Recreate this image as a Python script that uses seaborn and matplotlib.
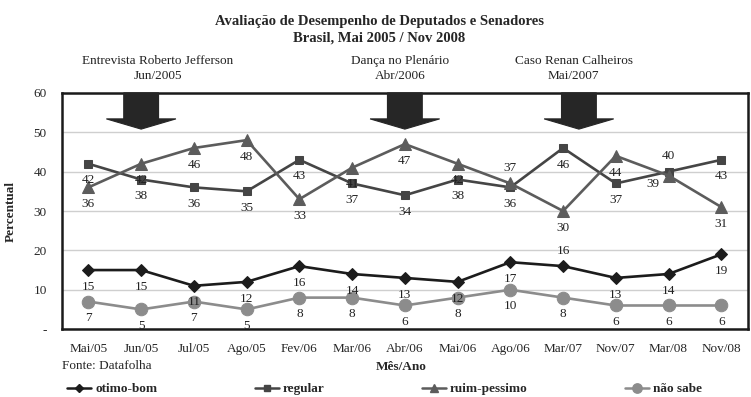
import matplotlib
matplotlib.use("Agg")
import matplotlib.pyplot as plt
from matplotlib.lines import Line2D
from matplotlib.patches import Polygon
import seaborn as sns
import pandas as pd
import numpy as np

# Survey rounds and results (%)
periods = ["Mai/05", "Jun/05", "Jul/05", "Ago/05", "Fev/06", "Mar/06", "Abr/06",
           "Mai/06", "Ago/06", "Mar/07", "Nov/07", "Mar/08", "Nov/08"]
otimo_bom = [15, 15, 11, 12, 16, 14, 13, 12, 17, 16, 13, 14, 19]
regular = [42, 38, 36, 35, 43, 37, 34, 38, 36, 46, 37, 40, 43]
ruim_pessimo = [36, 42, 46, 48, 33, 41, 47, 42, 37, 30, 44, 39, 31]
nao_sabe = [7, 5, 7, 5, 8, 8, 6, 8, 10, 8, 6, 6, 6]
series_names = ["otimo-bom", "regular", "ruim-pessimo", "não sabe"]

# Events marked with arrows: label, position on the period axis
events = ["Entrevista Roberto Jefferson\nJun/2005", "Dança no Plenário\nAbr/2006",
          "Caso Renan Calheiros\nMai/2007"]
event_pos = [1, 6, 9.3]

y_ticks = [0, 10, 20, 30, 40, 50, 60]
y_tick_labels = ["-", "10", "20", "30", "40", "50", "60"]

sns.set_theme(style="white")
plt.rcParams["font.family"] = ["Liberation Serif", "DejaVu Serif"]

values = [otimo_bom, regular, ruim_pessimo, nao_sabe]
df = pd.DataFrame({
    "idx": np.tile(np.arange(len(periods)), len(series_names)),
    "valor": np.concatenate(values),
    "serie": np.repeat(series_names, len(periods)),
})

colors = {"otimo-bom": "#1c1c1c", "regular": "#454545",
          "ruim-pessimo": "#5c5c5c", "não sabe": "#8c8c8c"}
markers = {"otimo-bom": "D", "regular": "s", "ruim-pessimo": "^", "não sabe": "o"}
msizes = {"otimo-bom": 6, "regular": 5.5, "ruim-pessimo": 8, "não sabe": 9}

fig = plt.figure(figsize=(7.51, 3.97), dpi=100)
ax = fig.add_axes([0.0826, 0.171, 0.913, 0.595])

for name in series_names:
    sub = df[df["serie"] == name]
    sns.lineplot(data=sub, x="idx", y="valor", ax=ax, color=colors[name],
                 marker=markers[name], markersize=msizes[name], linewidth=1.9,
                 markeredgecolor=colors[name], legend=False, sort=False)

# Value labels (mostly below the point)
special = {("otimo-bom", 9): (0, 11), ("regular", 11): (0, 11),
           ("ruim-pessimo", 8): (0, 11), ("ruim-pessimo", 11): (-11, -6)}
for name, vals in zip(series_names, values):
    for i, v in enumerate(vals):
        dx, dy = special.get((name, i), (0, -12))
        ax.annotate(str(v), (i, v), xytext=(dx, dy), textcoords="offset points",
                    ha="center", va="center", fontsize=9.5, color="#222222")

ax.set_xlim(-0.5, len(periods) - 0.5)
ax.set_ylim(0, 60)
ax.set_yticks(y_ticks)
ax.set_yticklabels(y_tick_labels, fontsize=9.5)
ax.set_xticks(range(len(periods)))
ax.set_xticklabels(periods, fontsize=9.5)
ax.set_xticks(np.arange(len(periods) + 1) - 0.5, minor=True)
ax.tick_params(axis="x", which="major", length=0, pad=10)
ax.tick_params(axis="x", which="minor", length=4, direction="out", color="#999999")
ax.tick_params(axis="y", length=3, direction="out", color="#222222", pad=8)
ax.yaxis.grid(True, color="#cfcfcf", linewidth=1)
ax.set_axisbelow(True)
for s in ax.spines.values():
    s.set_visible(True)
    s.set_color("#1a1a1a")
    s.set_linewidth(1.8)
ax.set_xlabel("")
ax.set_ylabel("Percentual", fontsize=9.5, fontweight="bold", labelpad=12)

# Event arrows hanging from the top of the plot
for label, pos in zip(events, event_pos):
    sw, hw = 0.33, 0.66
    arrow = Polygon([(pos - sw, 60), (pos + sw, 60), (pos + sw, 53.4),
                     (pos + hw, 53.4), (pos, 50.8), (pos - hw, 53.4),
                     (pos - sw, 53.4)], closed=True, facecolor="#262626",
                    edgecolor="#262626", linewidth=0.8, zorder=4, clip_on=False)
    ax.add_patch(arrow)

ev_off = [0.32, -0.09, -0.1]
for label, pos, off in zip(events, event_pos, ev_off):
    ax.text(pos + off, 60 + 6.3, label, ha="center", va="center",
            fontsize=9.5, linespacing=1.35, color="#222222")

fig.text(0.505, 0.925, "Avaliação de Desempenho de Deputados e Senadores\nBrasil, Mai 2005 / Nov 2008",
         ha="center", va="center", fontsize=10.5, fontweight="bold", linespacing=1.4)

fig.text(0.083, 0.078, "Fonte: Datafolha", ha="left", va="center", fontsize=9.5)
fig.text(0.534, 0.076, "Mês/Ano", ha="center", va="center", fontsize=9.5,
         fontweight="bold")

handles = [Line2D([0], [0], color=colors[n], marker=markers[n],
                  markersize=msizes[n] * 0.75, linewidth=1.8,
                  markeredgecolor=colors[n]) for n in series_names]
leg = fig.legend(handles, series_names, loc="center", bbox_to_anchor=(0.512, 0.02),
                 ncol=4, frameon=False, handlelength=1.8, columnspacing=7.4,
                 handletextpad=0.3, prop={"family": "Liberation Serif",
                                          "weight": "bold", "size": 9.5})

fig.savefig("out.png", dpi=100)
